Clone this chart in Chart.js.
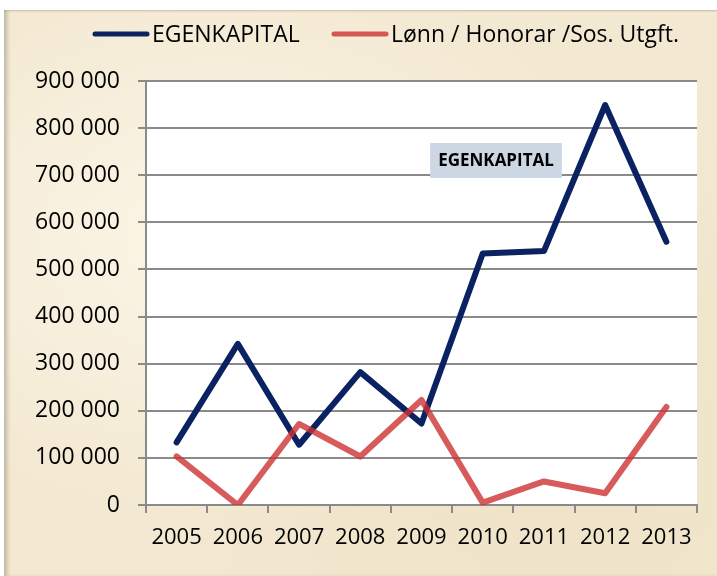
<!DOCTYPE html>
<html lang="no">
<head>
  <meta charset="UTF-8" />
  <title>Egenkapital</title>
  <script src="https://cdn.jsdelivr.net/npm/chart.js"></script>
  <style>
    html, body { margin: 0; padding: 0; background: #fff; }
    .page { position: relative; width: 717px; height: 576px; overflow: hidden; }
    .card {
      position: absolute; left: 4px; top: 10px; right: 0; bottom: 0;
      background:
        radial-gradient(ellipse at 30% 40%, rgba(255,252,240,0.7), rgba(255,252,240,0) 60%),
        radial-gradient(ellipse at 80% 80%, rgba(236,222,192,0.6), rgba(236,222,192,0) 55%),
        #f3e8d1;
      box-shadow: inset 5px 0 4px -2px rgba(150,140,120,0.55), inset 0 2px 2px -1px rgba(150,140,120,0.4);
    }
    .chart-box { position: absolute; left: 0; top: 0; width: 717px; height: 576px; }
  </style>
</head>
<body>
  <div class="page">
    <div class="card"></div>
    <div class="chart-box"><canvas id="equityChart"></canvas></div>
  </div>

  <script>
    // data
    const years = ['2005', '2006', '2007', '2008', '2009', '2010', '2011', '2012', '2013'];
    const egenkapital = [133000, 342000, 128000, 282000, 173000, 534000, 539000, 849000, 559000];
    const lonn = [103000, 0, 172000, 103000, 223000, 5000, 50000, 25000, 208000];
    const seriesNames = ['EGENKAPITAL', 'Lønn / Honorar /Sos. Utgft.'];
    const yMax = 900000;
    const yStep = 100000;

    const blue = '#0b2262';
    const red = 'rgba(205, 50, 50, 0.8)';
    const fontFamily = '"Open Sans", sans-serif';

    // white plot area
    const plotBg = {
      id: 'plotBg',
      beforeDraw(chart) {
        const { ctx, chartArea: a } = chart;
        ctx.save();
        ctx.fillStyle = '#ffffff';
        ctx.fillRect(a.left, a.top, a.right - a.left, a.bottom - a.top);
        ctx.restore();
      }
    };

    // the grey label box inside the plot
    const labelBox = {
      id: 'labelBox',
      beforeDatasetsDraw(chart) {
        const { ctx, chartArea: a } = chart;
        const text = 'EGENKAPITAL';
        ctx.save();
        ctx.font = 'bold 17px ' + fontFamily;
        const w = ctx.measureText(text).width;
        const cx = a.left + 350;
        const cy = a.top + 79;
        ctx.fillStyle = '#cdd7e3';
        ctx.fillRect(cx - w / 2 - 8, cy - 17, w + 16, 35);
        ctx.fillStyle = '#000';
        ctx.textAlign = 'center';
        ctx.textBaseline = 'middle';
        ctx.fillText(text, cx, cy + 1);
        ctx.restore();
      }
    };

    // legend across the top
    const topLegend = {
      id: 'topLegend',
      afterDraw(chart) {
        const { ctx } = chart;
        const starts = [93, 332];
        const y = 34;
        ctx.save();
        ctx.font = '23px ' + fontFamily;
        ctx.textBaseline = 'middle';
        chart.data.datasets.forEach((ds, i) => {
          ctx.strokeStyle = ds.borderColor;
          ctx.lineWidth = 5;
          ctx.lineCap = 'round';
          ctx.beginPath();
          ctx.moveTo(starts[i] + 2, y);
          ctx.lineTo(starts[i] + 54, y);
          ctx.stroke();
          ctx.fillStyle = '#000';
          ctx.fillText(ds.label, starts[i] + 59, y + 1);
        });
        ctx.restore();
      }
    };

    new Chart(document.getElementById('equityChart'), {
      type: 'line',
      data: {
        labels: years,
        datasets: [
          {
            label: seriesNames[0],
            data: egenkapital,
            borderColor: blue,
            borderWidth: 6,
            order: 1
          },
          {
            label: seriesNames[1],
            data: lonn,
            borderColor: red,
            borderWidth: 6,
            order: 0
          }
        ]
      },
      options: {
        responsive: true,
        maintainAspectRatio: false,
        animation: false,
        layout: { padding: { top: 81, right: 20, bottom: 0, left: 0 } },
        elements: {
          point: { radius: 0, hoverRadius: 0 },
          line: { tension: 0, borderCapStyle: 'round', borderJoinStyle: 'round' }
        },
        plugins: {
          legend: { display: false },
          tooltip: { enabled: false }
        },
        scales: {
          x: {
            offset: true,
            afterFit(scale) { scale.height = 71; },
            grid: {
              offset: true,
              drawOnChartArea: false,
              drawTicks: true,
              tickLength: 8,
              color: '#8a8a8a',
              lineWidth: 2
            },
            border: { color: '#8a8a8a', width: 2 },
            ticks: {
              padding: 12,
              maxRotation: 0,
              color: '#000',
              font: { family: fontFamily, size: 22 }
            }
          },
          y: {
            min: 0,
            max: yMax,
            afterFit(scale) { scale.width = 146; },
            grid: {
              color: '#8a8a8a',
              lineWidth: 2,
              tickLength: 8
            },
            border: { color: '#8a8a8a', width: 2 },
            ticks: {
              stepSize: yStep,
              padding: 18,
              color: '#000',
              font: { family: fontFamily, size: 23 },
              callback: v => v === 0 ? '0' : Math.round(v).toString().replace(/\B(?=(\d{3})+(?!\d))/g, ' ')
            }
          }
        }
      },
      plugins: [plotBg, labelBox, topLegend]
    });
  </script>
</body>
</html>
